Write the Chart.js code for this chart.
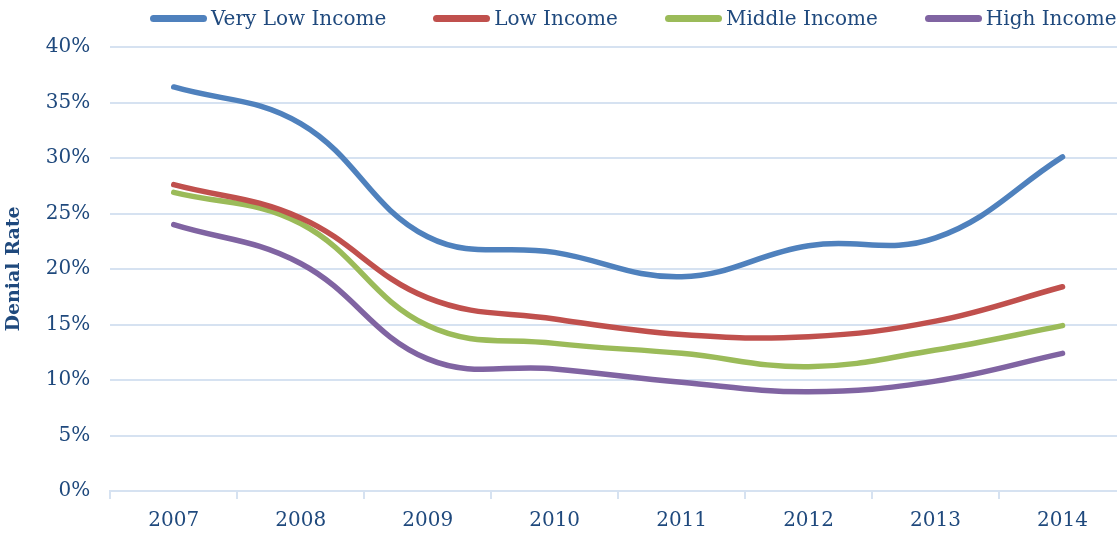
<!DOCTYPE html>
<html>
<head>
<meta charset="utf-8">
<script src="https://cdn.jsdelivr.net/npm/chart.js@4"></script>
<style>
  html, body { margin: 0; padding: 0; background: #fff; overflow: hidden; }
  #wrap { position: relative; width: 1126px; height: 535px; }
  #legend { position: absolute; top: 6px; left: 150px; display: flex; align-items: center;
            font-family: 'DejaVu Serif'; font-size: 20px; color: #1F497D; white-space: nowrap; }
  #legend .item { display: flex; align-items: center; margin-right: 47px; }
  #legend .swatch { width: 57px; height: 7px; border-radius: 4px; margin-right: 4px; }
</style>
</head>
<body>
<div id="wrap">
  <canvas id="denialChart" width="1126" height="535"></canvas>
  <div id="legend"></div>
</div>
<script>
// 연도별 소득 구간 거절률 (%)
const years = ['2007', '2008', '2009', '2010', '2011', '2012', '2013', '2014'];
const veryLowIncome = [36.4, 33.1, 22.9, 21.5, 19.3, 22.1, 22.8, 30.1];
const lowIncome     = [27.6, 24.6, 17.4, 15.5, 14.1, 13.9, 15.3, 18.4];
const middleIncome  = [26.9, 24.1, 14.9, 13.3, 12.4, 11.2, 12.7, 14.9];
const highIncome    = [24.0, 20.5, 11.9, 11.0, 9.8, 8.95, 9.9, 12.4];
const yTicks = [0, 5, 10, 15, 20, 25, 30, 35, 40];

const TEXT = '#1F497D';
const GRID = '#D6E2F1';
const FONT = 'DejaVu Serif';

function series(label, values, color) {
    return {
        label: label,
        data: values,
        borderColor: color,
        backgroundColor: color,
        borderWidth: 5.5,
        borderCapStyle: 'round',
        pointRadius: 0,
        pointHoverRadius: 0,
        tension: 0.4,
        fill: false
    };
}

const ctx = document.getElementById('denialChart').getContext('2d');
const myChart = new Chart(ctx, {
    type: 'line',
    data: {
        labels: years,
        datasets: [
            series('Very Low Income', veryLowIncome, '#4F81BD'),
            series('Low Income', lowIncome, '#C0504D'),
            series('Middle Income', middleIncome, '#9BBB59'),
            series('High Income', highIncome, '#8064A2')
        ]
    },
    options: {
        responsive: false,
        animation: false,
        devicePixelRatio: 1,
        layout: { padding: { left: 0, right: 0, top: 47, bottom: -8 } },
        plugins: {
            tooltip: { enabled: false },
            legend: { display: false }
        },
        scales: {
            x: {
                offset: true,
                grid: {
                    offset: true,
                    drawOnChartArea: false,
                    drawTicks: true,
                    tickLength: 8,
                    color: GRID,
                    lineWidth: 2
                },
                border: { display: true, color: GRID, width: 2 },
                ticks: {
                    color: TEXT,
                    font: { family: FONT, size: 20 },
                    padding: 10
                }
            },
            y: {
                min: 0,
                max: 40,
                afterBuildTicks: (axis) => { axis.ticks = yTicks.map(v => ({ value: v })); },
                grid: {
                    color: GRID,
                    lineWidth: 2,
                    drawTicks: false
                },
                border: { display: false },
                ticks: {
                    color: TEXT,
                    font: { family: FONT, size: 20 },
                    padding: 20,
                    callback: (v) => v + '%'
                },
                title: {
                    display: true,
                    text: 'Denial Rate',
                    color: TEXT,
                    font: { family: FONT, size: 19, weight: 'bold' },
                    padding: { top: 3, bottom: 0 }
                }
            }
        }
    }
});

// 범례는 HTML로 그림 (항목 간격을 원본에 맞추기 위해)
const legendEl = document.getElementById('legend');
myChart.data.datasets.forEach((ds) => {
    const item = document.createElement('div');
    item.className = 'item';
    const sw = document.createElement('span');
    sw.className = 'swatch';
    sw.style.background = ds.borderColor;
    const txt = document.createElement('span');
    txt.innerText = ds.label;
    item.appendChild(sw);
    item.appendChild(txt);
    legendEl.appendChild(item);
});
</script>
</body>
</html>
